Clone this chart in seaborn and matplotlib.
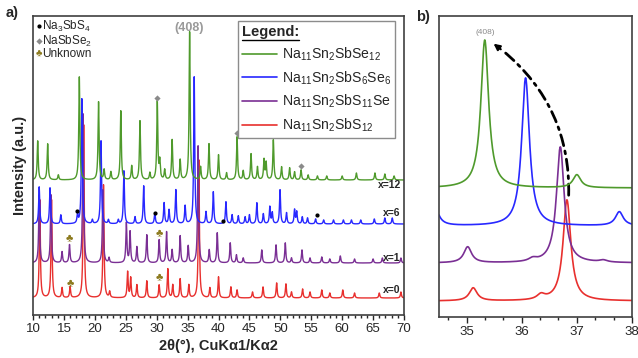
import numpy as np
import pandas as pd
import matplotlib
matplotlib.use("Agg")
import matplotlib.pyplot as plt
import seaborn as sns
from matplotlib.lines import Line2D
from matplotlib.patches import FancyArrowPatch
from matplotlib.ticker import MultipleLocator, AutoMinorLocator

# ---- panel a: peak lists (2theta, top of peak) ----
green_base = 135
green_pos = [10.76, 12.37, 14.1, 17.49, 20.6, 21.5, 22.6, 24.2, 25.96, 27.3, 28.9, 30.1, 30.5,
             31.3, 32.5, 33.8, 35.33, 37.1, 38.46, 40.0, 41.3, 43.0, 44.0, 45.26, 46.3, 47.36,
             47.7, 48.87, 50.2, 51.5, 52.3, 53.35, 54.5, 56.0, 57.5, 60.0, 62.3, 65.3, 66.9, 68.4]
green_top = [174, 171, 140, 238, 213, 145, 143, 204, 149, 194, 142, 213, 153,
             145, 175, 155, 283, 148, 171, 160, 142, 178, 144, 161, 148, 155,
             152, 175, 148, 147, 143, 145, 140, 139, 139, 139, 142, 142, 141, 139]

blue_base = 91
blue_pos = [11.0, 12.75, 14.5, 17.2, 17.9, 19.6, 21.0, 22.2, 23.8, 24.7, 26.5, 27.9, 29.7, 31.2,
            32.0, 33.1, 34.6, 36.07, 37.98, 39.16, 41.2, 42.2, 43.2, 44.3, 45.0, 46.2, 47.25,
            48.3, 48.7, 49.95, 51.0, 52.3, 52.65, 53.55, 54.4, 55.7, 57.0, 58.6, 60.2, 61.5,
            63.0, 65.2, 66.9, 68.1]
blue_top = [128, 127, 100, 100, 216, 95, 174, 95, 95, 144, 98, 129, 102, 112,
            105, 125, 109, 238, 103, 123, 113, 100, 99, 98, 100, 112, 101,
            108, 102, 125, 102, 105, 103, 98, 97, 96, 95, 95, 95, 95,
            95, 96, 97, 97]

purple_base = 52
purple_pos = [11.0, 12.9, 14.7, 15.9, 18.1, 21.3, 22.3, 25.1, 25.7, 26.8, 28.4, 30.4, 31.6, 32.5,
              33.8, 35.1, 36.7, 38.5, 39.8, 41.9, 42.9, 44.0, 47.0, 49.3, 50.8, 51.8, 53.5,
              54.8, 56.7, 58.0, 59.7, 62.0, 65.0, 66.5, 69.5]
purple_top = [120, 120, 63, 70, 201, 125, 57, 92, 83, 68, 80, 75, 83, 65,
              79, 69, 169, 65, 82, 72, 60, 57, 65, 70, 72, 57, 65,
              57, 58, 56, 59, 56, 56, 57, 57]

red_base = 17
red_pos = [11.1, 13.0, 14.7, 16.0, 18.2, 21.4, 22.4, 25.3, 25.8, 26.8, 28.4, 30.4, 31.8, 32.6,
           33.8, 35.2, 36.82, 38.6, 40.0, 42.0, 43.0, 45.5, 47.2, 49.4, 50.9, 51.8, 53.6,
           54.8, 56.7, 58.0, 60.1, 62.0, 66.0, 69.5]
red_top = [115, 115, 27, 28, 190, 130, 23, 43, 37, 30, 34, 30, 46, 30,
           36, 30, 155, 27, 38, 28, 25, 23, 28, 32, 31, 23, 26,
           23, 25, 22, 25, 22, 22, 23]

# ---- panel b: zoom on the (408) reflection ----
b_green = ([35.33, 37.0], [277, 142], 129)
b_blue = ([34.42, 36.07, 37.77], [111, 239, 105], 91)
b_purple = ([35.02, 36.2, 36.7, 37.48], [70, 57, 170, 56], 54)
b_red = ([35.12, 36.35, 36.82], [29, 21, 117], 16)

labels = [r"$\mathrm{Na_{11}Sn_2SbSe_{12}}$", r"$\mathrm{Na_{11}Sn_2SbS_6Se_6}$",
          r"$\mathrm{Na_{11}Sn_2SbS_{11}Se}$", r"$\mathrm{Na_{11}Sn_2SbS_{12}}$"]
colors = ["#4f9a2c", "#2828ff", "#7a2f94", "#e8302e"]
x_tags = ["x=12", "x=6", "x=1", "x=0"]

# phase markers
na3sbs4_x = [17.17, 29.73, 40.68, 55.88]
na3sbs4_y = [104, 102, 94, 100]
nasbse2_x = [30.1, 43.0, 53.35]
nasbse2_y = [217, 182, 149]
unknown_x = [15.9, 30.38, 15.98, 30.38]
unknown_y = [77, 82, 32, 38]


def profile(x, pos, top, base, w):
    y = np.full_like(x, float(base))
    for p, t in zip(pos, top):
        y += (t - base) / (1 + ((x - p) / w) ** 2)
    return y


sns.set_style("ticks")
plt.rcParams["font.family"] = ["Liberation Sans", "DejaVu Sans"]
plt.rcParams["mathtext.fontset"] = "custom"
plt.rcParams["mathtext.rm"] = "Liberation Sans"
plt.rcParams["mathtext.it"] = "Liberation Sans:italic"
plt.rcParams["mathtext.bf"] = "Liberation Sans:bold"

W, H = 638, 358
fig = plt.figure(figsize=(W / 100, H / 100), dpi=100)
ax_a = fig.add_axes([33 / W, 43 / H, 371 / W, 299 / H])
ax_b = fig.add_axes([439 / W, 41 / H, 193 / W, 301 / H])

xa = np.arange(10, 70.001, 0.01)
series_a = [(green_pos, green_top, green_base), (blue_pos, blue_top, blue_base),
            (purple_pos, purple_top, purple_base), (red_pos, red_top, red_base)]
for i in [3, 2, 1, 0]:
    pos, top, base = series_a[i]
    df = pd.DataFrame({"two_theta": xa, "I": profile(xa, pos, top, base, 0.1)})
    sns.lineplot(data=df, x="two_theta", y="I", ax=ax_a, color=colors[i], lw=1.0,
                 estimator=None, sort=False)
handles = [Line2D([], [], color=c, lw=1.2) for c in colors]

xb = np.arange(34.5, 38.001, 0.005)
series_b = [b_green, b_blue, b_purple, b_red]
for i in [3, 2, 1, 0]:
    pos, top, base = series_b[i]
    df = pd.DataFrame({"two_theta": xb, "I": profile(xb, pos, top, base, 0.085)})
    sns.lineplot(data=df, x="two_theta", y="I", ax=ax_b, color=colors[i], lw=1.2,
                 estimator=None, sort=False)

# phase markers in panel a
ax_a.scatter(na3sbs4_x, na3sbs4_y, s=4, color="black", zorder=5)
ax_a.scatter(nasbse2_x, nasbse2_y, s=10, marker="D", color="#8a8a8a", zorder=5, linewidths=0)
for ux, uy in zip(unknown_x, unknown_y):
    ax_a.text(ux, uy, "\u2663", color="#8c7a1e", fontsize=8, ha="center", va="center", zorder=6)

ax_a.text(35.33, 281, "(408)", color="#9a9a9a", fontsize=9, fontweight="bold",
          ha="center", va="bottom")
for tag, ty in zip(x_tags, [130, 102, 57, 25]):
    ax_a.text(69.5, ty, tag, fontsize=7.5, fontweight="bold", ha="right", va="center")

# small phase key in the top-left corner
ax_a.scatter([10.9], [289], s=4, color="black")
ax_a.text(11.4, 289, r"$\mathrm{Na_3SbS_4}$", fontsize=8.5, va="center")
ax_a.scatter([10.9], [274], s=10, marker="D", color="#8a8a8a", linewidths=0)
ax_a.text(11.4, 274, r"$\mathrm{NaSbSe_2}$", fontsize=8.5, va="center")
ax_a.text(10.9, 261, "\u2663", color="#8c7a1e", fontsize=7, ha="center", va="center")
ax_a.text(11.4, 261, "Unknown", fontsize=8.5, va="center")

leg = ax_a.legend(handles, labels, loc="upper left", bbox_to_anchor=(0.5526, 0.983),
                  borderaxespad=0, fontsize=10.1, title="Legend:", alignment="left",
                  title_fontproperties={"weight": "bold", "size": 10.5},
                  handlelength=2.5, handletextpad=0.3, borderpad=0.3, labelspacing=0.45,
                  frameon=True, fancybox=False, edgecolor="#8c8c8c", framealpha=1)
leg.get_frame().set_linewidth(1.0)

ax_a.set_xlim(10, 70)
ax_a.set_ylim(0, 299)
ax_a.xaxis.set_major_locator(MultipleLocator(5))
ax_a.xaxis.set_minor_locator(MultipleLocator(1))
ax_a.set_yticks([])
ax_a.set_xlabel("2\u03b8(\u00b0), CuK\u03b11/K\u03b12", fontsize=10.5, fontweight="bold", labelpad=3)
ax_a.set_ylabel("Intensity (a.u.)", fontsize=10.5, fontweight="bold", labelpad=4)
ax_a.tick_params(axis="x", which="major", length=3.5, width=1, labelsize=9.5, pad=2)
ax_a.tick_params(axis="x", which="minor", length=2, width=1)

# arrow tracking the (408) shift
ax_b.add_patch(FancyArrowPatch((36.85, 119), (35.62, 268), connectionstyle="arc3,rad=0.25",
                               arrowstyle="-", linestyle=(0, (4, 2, 1, 2)), lw=2, color="black"))
ax_b.add_patch(FancyArrowPatch((35.66, 266), (35.45, 275), arrowstyle="-|>",
                               mutation_scale=9, lw=1.5, color="black"))
ax_b.text(35.33, 281, "(408)", color="#8a8a8a", fontsize=6, ha="center", va="bottom")

ax_b.set_xlim(34.5, 38)
ax_b.set_ylim(0, 301)
ax_b.xaxis.set_major_locator(MultipleLocator(1))
ax_b.xaxis.set_minor_locator(AutoMinorLocator(3))
ax_b.set_yticks([])
ax_b.set_xlabel("")
ax_b.set_ylabel("")
ax_b.tick_params(axis="x", which="major", length=4.5, width=1, labelsize=9.5, pad=2)
ax_b.tick_params(axis="x", which="minor", length=2.5, width=1)

for ax in (ax_a, ax_b):
    for sp in ax.spines.values():
        sp.set_visible(True)
        sp.set_color("#404040")
        sp.set_linewidth(1.2)

fig.text(12 / W, 1 - 13 / H, "a)", fontsize=10.5, fontweight="bold", ha="center", va="center")
fig.text(423 / W, 1 - 17 / H, "b)", fontsize=10.5, fontweight="bold", ha="center", va="center")

# underline the legend title
fig.canvas.draw()
tb = leg.get_title().get_window_extent()
fig.add_artist(Line2D([tb.x0 / W, tb.x1 / W], [(tb.y0 - 1) / H, (tb.y0 - 1) / H],
                      transform=fig.transFigure, color="black", lw=1))

fig.savefig("out.png", dpi=100)
